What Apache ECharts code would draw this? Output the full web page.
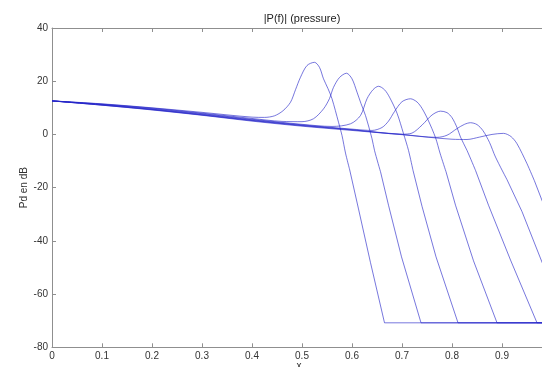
<!DOCTYPE html>
<html>
<head>
<meta charset="utf-8">
<script src="https://cdn.jsdelivr.net/npm/echarts@6/dist/echarts.min.js"></script>
<style>
html,body{margin:0;padding:0;background:#fff;}
#chart{width:542px;height:367px;}
</style>
</head>
<body>
<div id="chart"></div>
<script>
// Chart text
const titleText = '|P(f)| (pressure)';
const yName = 'Pd en dB';
const xName = 'x';
const xTicks = [0, 0.1, 0.2, 0.3, 0.4, 0.5, 0.6, 0.7, 0.8, 0.9];
const yTicks = [-80, -60, -40, -20, 0, 20, 40];

// Curves: [x, dB]
const curve1 = [[0,12.6],[0.1,11.5],[0.2,10.0],[0.3,8.3],[0.4,6.5],[0.425,6.4],[0.445,7.0],[0.462,8.9],[0.477,12.1],[0.487,16.8],[0.497,21.5],[0.51,25.9],[0.525,27.1],[0.535,25.2],[0.543,20.9],[0.552,17.2],[0.56,13.4],[0.573,4.6],[0.58,-0.4],[0.587,-7.0],[0.595,-13.0],[0.613,-28.0],[0.637,-48.2],[0.665,-70.8],[1,-70.8]];
const curve2 = [[0,12.6],[0.1,11.4],[0.2,9.9],[0.3,8.0],[0.4,6.0],[0.46,4.9],[0.5,4.8],[0.523,5.9],[0.543,9.6],[0.555,13.5],[0.563,17.7],[0.575,21.4],[0.589,23.0],[0.6,20.9],[0.61,15.9],[0.618,11.6],[0.627,7.1],[0.64,-1.6],[0.645,-6],[0.657,-14],[0.673,-26.6],[0.699,-46],[0.738,-70.8],[1,-70.8]];
const curve3 = [[0,12.6],[0.1,11.3],[0.2,9.7],[0.3,7.8],[0.4,5.7],[0.5,3.8],[0.56,3.0],[0.597,4.0],[0.617,7.1],[0.63,13.4],[0.642,16.8],[0.653,18.1],[0.665,16.8],[0.675,14],[0.69,8],[0.703,0.3],[0.713,-6],[0.722,-13.5],[0.74,-27],[0.768,-46],[0.812,-70.8],[1,-70.8]];
const curve4 = [[0,12.6],[0.1,11.2],[0.2,9.5],[0.3,7.6],[0.4,5.5],[0.5,3.6],[0.6,2.0],[0.64,1.5],[0.66,2.6],[0.673,5],[0.685,8.6],[0.7,12.3],[0.717,13.4],[0.73,12.2],[0.74,9.8],[0.752,5.5],[0.767,-1.2],[0.776,-7],[0.788,-14],[0.807,-26.6],[0.843,-47.5],[0.89,-70.8],[1,-70.8]];
const curve5 = [[0,12.6],[0.1,11.1],[0.2,9.4],[0.3,7.4],[0.4,5.3],[0.5,3.4],[0.6,1.8],[0.7,0.1],[0.72,0.5],[0.74,3.5],[0.76,7.3],[0.777,8.75],[0.79,8.2],[0.8,6.3],[0.81,2.6],[0.817,-1],[0.83,-6],[0.847,-13.5],[0.873,-26.6],[0.917,-47.2],[0.97,-70.8],[1,-70.8]];
const curve6 = [[0,12.6],[0.1,11.0],[0.2,9.3],[0.3,7.3],[0.4,5.2],[0.5,3.3],[0.6,1.7],[0.7,0.0],[0.77,-1.1],[0.79,-0.3],[0.81,2.2],[0.825,3.8],[0.837,4.4],[0.85,3.7],[0.862,1.4],[0.875,-3],[0.887,-8.5],[0.91,-17],[0.94,-29],[0.98,-48],[1,-57]];
const curve7 = [[0,12.6],[0.1,11.0],[0.2,9.2],[0.3,7.2],[0.4,5.0],[0.5,3.1],[0.6,1.5],[0.7,-0.1],[0.8,-1.8],[0.83,-1.9],[0.855,-1.0],[0.88,0.0],[0.903,0.4],[0.918,-0.8],[0.93,-3.5],[0.95,-11],[0.965,-17.5],[0.98,-24.8],[1,-34]];

const curves = [curve1, curve2, curve3, curve4, curve5, curve6, curve7];

const chart = echarts.init(document.getElementById('chart'), null, {renderer: 'canvas'});
const axisGrey = '#8f8f8f';
const labelCol = '#333';
const font = 'Liberation Sans, Arial, sans-serif';
const lineCol = 'rgba(35,35,200,0.62)';

const baseX = {
  type: 'value', min: 0, max: 0.988, interval: 0.1,
  axisLine: {show: true, onZero: false, lineStyle: {color: axisGrey, width: 1}},
  axisTick: {show: true, inside: true, length: 4, lineStyle: {color: axisGrey}},
  splitLine: {show: false}
};
const baseY = {
  type: 'value', min: -80, max: 40, interval: 20,
  axisLine: {show: true, onZero: false, lineStyle: {color: axisGrey, width: 1}},
  axisTick: {show: true, inside: true, length: 4, lineStyle: {color: axisGrey}},
  splitLine: {show: false}
};

// Smooth part up to the first point below -12 dB, then straight segments
const series = [];
curves.forEach((c, i) => {
  let k = c.findIndex(p => p[1] < -12);
  if (k < 0) k = c.length - 1;
  series.push({
    type: 'line', name: 'c' + (i + 1), data: c.slice(0, k + 1),
    showSymbol: false, smooth: 0.3, clip: true,
    lineStyle: {color: lineCol, width: 1}
  });
  series.push({
    type: 'line', name: 'c' + (i + 1) + 'b', data: c.slice(k),
    showSymbol: false, smooth: false, clip: true,
    lineStyle: {color: lineCol, width: 1}
  });
});

chart.setOption({
  animation: false,
  backgroundColor: '#fff',
  title: {
    text: titleText, left: 302, top: 13, padding: 0, textAlign: 'center',
    textStyle: {fontSize: 11, fontWeight: 'normal', color: '#222', fontFamily: font}
  },
  grid: {left: 52, top: 28, width: 494, height: 319.3, outerBoundsMode: 'none', containLabel: false},
  xAxis: [
    Object.assign({}, baseX, {
      position: 'bottom', name: xName, nameLocation: 'middle', nameGap: 14,
      nameMoveOverlap: false,
      nameTextStyle: {fontSize: 10, color: labelCol, fontFamily: font},
      axisLabel: {
        show: true, margin: 4, color: labelCol, fontSize: 10, fontFamily: font,
        showMaxLabel: false,
        formatter: v => (xTicks.some(t => Math.abs(t - v) < 1e-9) ? String(+v.toFixed(1)) : '')
      }
    }),
    Object.assign({}, baseX, {position: 'top', axisLabel: {show: false}})
  ],
  yAxis: [
    Object.assign({}, baseY, {
      position: 'left', name: yName, nameLocation: 'middle', nameGap: 23, nameRotate: 90,
      nameMoveOverlap: false,
      nameTextStyle: {fontSize: 10, color: labelCol, fontFamily: font},
      axisLabel: {
        show: true, margin: 4, color: labelCol, fontSize: 10, fontFamily: font,
        formatter: v => (yTicks.indexOf(v) >= 0 ? String(v) : '')
      }
    }),
    Object.assign({}, baseY, {position: 'right', axisLabel: {show: false}})
  ],
  series: series
});
</script>
</body>
</html>
